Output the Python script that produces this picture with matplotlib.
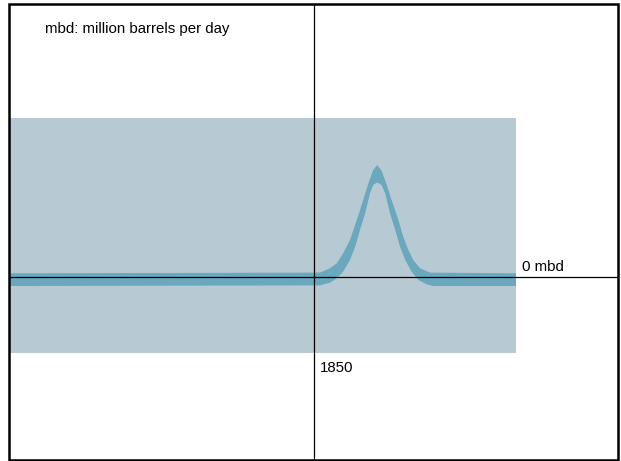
import matplotlib
matplotlib.use("Agg")
import matplotlib.pyplot as plt
from matplotlib.patches import Rectangle

# ---- data ----
upper_years = [1090, 1865, 1890, 1907, 1923, 1940, 1957, 1973, 1986, 1998, 2008,
               2019, 2032, 2044, 2061, 2073, 2086, 2098, 2115, 2140, 2355]
upper_mbd = [3.0, 3.5, 7.0, 10.9, 19.0, 29.6, 45.6, 61.6, 75.0, 85.6, 89.6,
             85.0, 73.6, 61.6, 45.6, 32.3, 21.6, 13.6, 7.0, 3.5, 3.0]
lower_years = [1090, 1865, 1890, 1907, 1923, 1940, 1953, 1965, 1978, 1990, 1998, 2008,
               2019, 2028, 2040, 2053, 2065, 2078, 2094, 2111, 2132, 2148, 2355]
lower_mbd = [-7.2, -6.7, -4.5, -1.1, 4.3, 13.6, 24.3, 37.6, 51.0, 67.0, 73.6, 75.7,
             73.6, 67.0, 51.0, 37.6, 24.3, 13.6, 4.3, -2.4, -5.9, -7.2, -7.2]
ref_year = 1850
ref_label = "1850"
zero_label = "0 mbd"
note = "mbd: million barrels per day"

W, H = 621, 461
fig = plt.figure(figsize=(W / 100, H / 100), dpi=100)
fig.patch.set_facecolor("white")

# axes = the shaded plot rectangle (pixels 10..516 x, 118..353 y)
ax = fig.add_axes([10 / W, 1 - 353 / H, 506 / W, 235 / H])
ax.set_facecolor("#b7c9d2")
ax.set_xlim(1090, 2355)
ax.set_ylim(-60.8, 127.2)
for s in ax.spines.values():
    s.set_visible(False)
ax.set_xticks([])
ax.set_yticks([])

band_x = upper_years + lower_years[::-1]
band_y = upper_mbd + lower_mbd[::-1]
ax.fill(band_x, band_y, color="#6aa8bd", lw=0, zorder=2)

# reference lines extending across the whole frame
ax.axvline(ref_year, ymin=(353 - 459) / 235, ymax=(353 - 4) / 235,
           color="black", lw=0.9, clip_on=False, zorder=3)
ax.axhline(0, xmin=-1 / 506, xmax=(617 - 10) / 506,
           color="black", lw=0.9, clip_on=False, zorder=3)

font = ["Liberation Sans", "DejaVu Sans"]
fs = 10.8
ax.annotate(zero_label, xy=(1, 0), xycoords=ax.get_yaxis_transform(),
            xytext=(6 * 0.72, 6 * 0.72), textcoords="offset points",
            ha="left", va="baseline", fontsize=fs, family=font, annotation_clip=False)
ax.annotate(ref_label, xy=(ref_year, 0), xycoords="data",
            xytext=(6 * 0.72, -(371.5 - 277) * 0.72), textcoords="offset points",
            ha="left", va="baseline", fontsize=fs, family=font, annotation_clip=False)
fig.text(45 / W, 1 - 32.5 / H, note, ha="left", va="baseline", fontsize=fs, family=font)

# outer frame
fig.patches.append(Rectangle((8.7 / W, 1 - 459.5 / H), (617.5 - 8.7) / W, (459.5 - 4) / H,
                             transform=fig.transFigure, fill=False,
                             edgecolor="black", lw=1.8))

fig.savefig("out.png", dpi=100)
